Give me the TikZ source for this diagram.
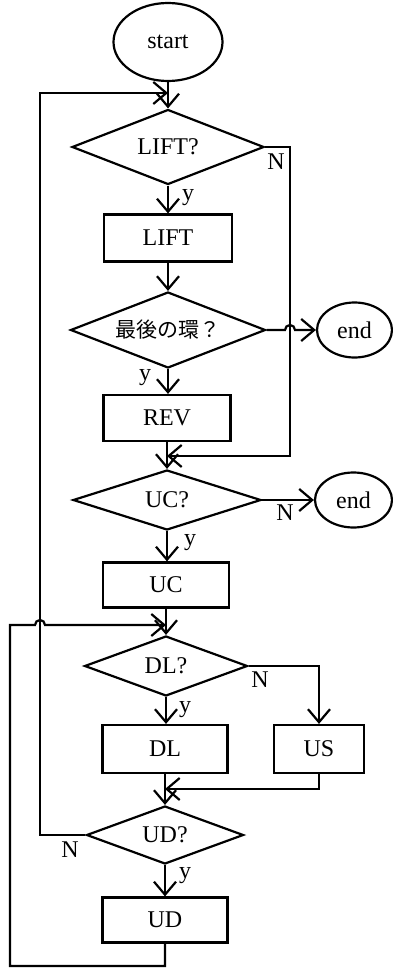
\documentclass[tikz,border=0pt]{standalone}
\usepackage{fontspec}
\setmainfont{Liberation Serif}
\newfontfamily\cjk{Noto Sans CJK JP}
\usetikzlibrary{shapes.geometric,arrows.meta}
\begin{document}
\begin{tikzpicture}[x=0.5pt,y=-0.5pt, line width=1.1pt,
 every node/.style={font=\fontsize{12}{14}\selectfont},
 box/.style={draw, rectangle, inner sep=0pt},
 dec/.style={draw, diamond, aspect=2.5, inner sep=0pt},
 term/.style={draw, ellipse, inner sep=0pt},
 lbl/.style={inner sep=0pt},
 >={Straight Barb[length=6.5pt,width=11pt]}
]
\useasboundingbox (0,0) rectangle (392,968);
% nodes
\node[term, minimum width=54.5pt, minimum height=39pt] (start) at (168,42) {start};
\node[dec, minimum width=96pt, minimum height=37.5pt] (q1) at (168,147) {LIFT?};
\node[box, minimum width=64pt, minimum height=23.5pt] (lift) at (168,238) {LIFT};
\node[dec, minimum width=97.5pt, minimum height=38pt] (q2) at (168,330) {\cjk\fontsize{10.5}{12}\selectfont 最後の環？};
\node[term, minimum width=37.5pt, minimum height=27.5pt] (end1) at (354.5,330) {end};
\node[box, minimum width=63.5pt, minimum height=23pt] (rev) at (167,418) {REV};
\node[dec, minimum width=94pt, minimum height=30pt] (q3) at (167,500) {UC?};
\node[term, minimum width=38.5pt, minimum height=27.5pt] (end2) at (353.5,500) {end};
\node[box, minimum width=63pt, minimum height=22.5pt] (uc) at (166,585) {UC};
\node[dec, minimum width=81.5pt, minimum height=30pt] (q4) at (166,666) {DL?};
\node[box, minimum width=62.5pt, minimum height=24pt] (dl) at (165,749) {DL};
\node[box, minimum width=45pt, minimum height=24pt] (us) at (319,749) {US};
\node[dec, minimum width=78.5pt, minimum height=29pt] (q5) at (165,835) {UD?};
\node[box, minimum width=62.5pt, minimum height=22.5pt] (ud) at (165,920) {UD};
% helper coordinates
\coordinate (tl) at (40,93);
\coordinate (m1) at (168,93);
\coordinate (rx) at (290,147);
\coordinate (m2) at (167,456);
\coordinate (j1) at (285,330);
\coordinate (bl) at (10,966);
\coordinate (m3) at (166,625);
\coordinate (j2) at (35,625);
\coordinate (m4) at (165,789);
% connectors
\draw[->] (start.south) -- (q1.north);
\draw[->] (q5.west) -- (q5.west -| tl) -- (tl) -- (m1);
\draw[->] (q1.south) -- (lift.north);
\draw[->] (q1.east) -- (rx) |- (m2);
\draw[->] (lift.south) -- (q2.north);
\draw[->] (q2.east) -- (j1) arc[start angle=180,end angle=0,radius=2.5pt] -- (end1.west);
\draw[->] (q2.south) -- (q2.south |- rev.north);
\draw[->] (rev.south) -- (q3.north);
\draw[->] (q3.east) -- (end2.west);
\draw[->] (q3.south) -- (q3.south |- uc.north);
\draw[->] (uc.south) -- (q4.north);
\draw[->] (ud.south) -- (ud.south |- bl) -- (bl) -- (bl |- m3) -- (j2) arc[start angle=180,end angle=0,radius=2.5pt] -- (m3);
\draw[->] (q4.east) -| (us.north);
\draw[->] (q4.south) -- (q4.south |- dl.north);
\draw[->] (us.south) |- (m4);
\draw[->] (dl.south) -- (q5.north);
\draw[->] (q5.south) -- (ud.north);
% labels
\node[lbl] (y1) at (188,198) {y};
\node[lbl] (n1) at (276,162) {N};
\node[lbl] (y2) at (145,378) {y};
\node[lbl] (y3) at (190,543) {y};
\node[lbl] (n3) at (285,513) {N};
\node[lbl] (n4) at (260,680) {N};
\node[lbl] (y4) at (185,710) {y};
\node[lbl] (n5) at (70,850) {N};
\node[lbl] (y5) at (185,876) {y};
\end{tikzpicture}
\end{document}
